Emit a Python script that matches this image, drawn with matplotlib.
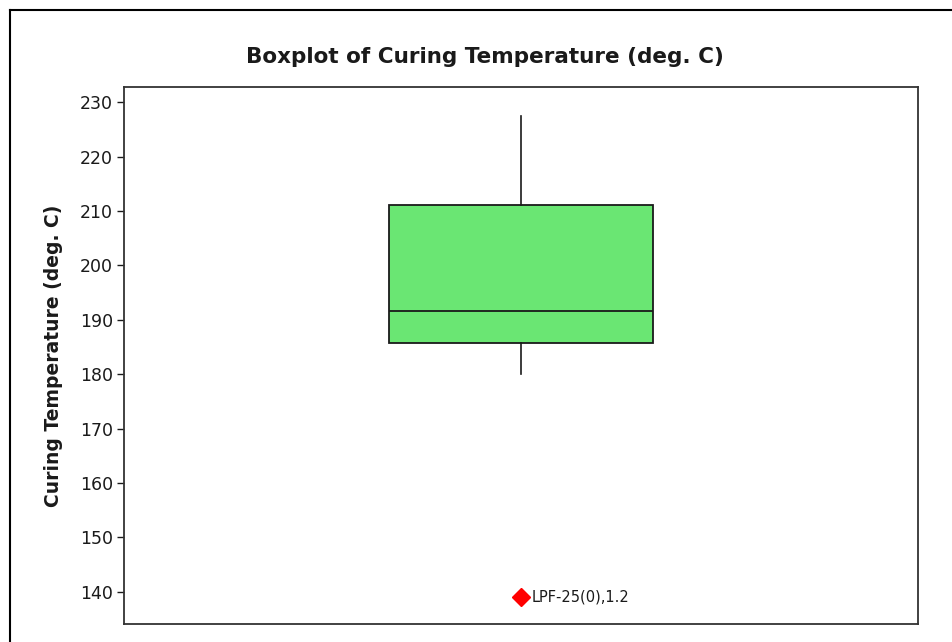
import matplotlib.pyplot as plt
from matplotlib.lines import Line2D

# Boxplot statistics
whisker_low = 180.1
q1 = 185.8
median = 191.6
q3 = 211.2
whisker_high = 227.4
outliers = [139.1]
outlier_label = "LPF-25(0),1.2"
yticks = [140, 150, 160, 170, 180, 190, 200, 210, 220, 230]

W, H = 953, 642
fig = plt.figure(figsize=(W / 100, H / 100), dpi=100)
plt.rcParams['font.family'] = ['DejaVu Sans']

# axes placement in pixels
left, right, top, bottom = 124, 918, 87, 624
ax = fig.add_axes([left / W, 1 - bottom / H, (right - left) / W, (bottom - top) / H])

stats = [dict(med=median, q1=q1, q3=q3, whislo=whisker_low, whishi=whisker_high,
              fliers=outliers)]
ax.bxp(stats, positions=[1], widths=0.332 * 2, patch_artist=True, showcaps=False,
       boxprops=dict(facecolor='#6ae673', edgecolor='#1a1a1a', linewidth=1.3),
       medianprops=dict(color='#1a1a1a', linewidth=1.3),
       whiskerprops=dict(color='#1a1a1a', linewidth=1.2),
       flierprops=dict(marker='D', markerfacecolor='red', markeredgecolor='red',
                       markersize=9))
for y in outliers:
    ax.annotate(outlier_label, (1, y), xytext=(8, 0), textcoords='offset points',
                va='center', ha='left', fontsize=10.5, color='#1a1a1a')

ax.set_xlim(0, 2)
ax.set_ylim(134.1, 232.8)
ax.set_yticks(yticks)
ax.set_xticks([])
ax.tick_params(axis='y', labelsize=12.5, length=5, width=1, color='#1a1a1a',
               labelcolor='#1a1a1a', pad=3)
for s in ax.spines.values():
    s.set_linewidth(1.3)
    s.set_color('#333333')

ax.set_ylabel("Curing Temperature (deg. C)", fontsize=13.5, fontweight='bold',
              color='#1a1a1a', labelpad=12)
fig.text(485 / W, 1 - 57 / H, "Boxplot of Curing Temperature (deg. C)",
         ha='center', va='center', fontsize=15.5, fontweight='bold', color='#1a1a1a')

# outer frame (top and left edges)
fig.add_artist(Line2D([10 / W, 1], [1 - 10 / H, 1 - 10 / H], color='black', linewidth=1.5,
                      transform=fig.transFigure))
fig.add_artist(Line2D([10 / W, 10 / W], [0, 1 - 10 / H], color='black', linewidth=1.5,
                      transform=fig.transFigure))

fig.savefig("out.png", dpi=100)
